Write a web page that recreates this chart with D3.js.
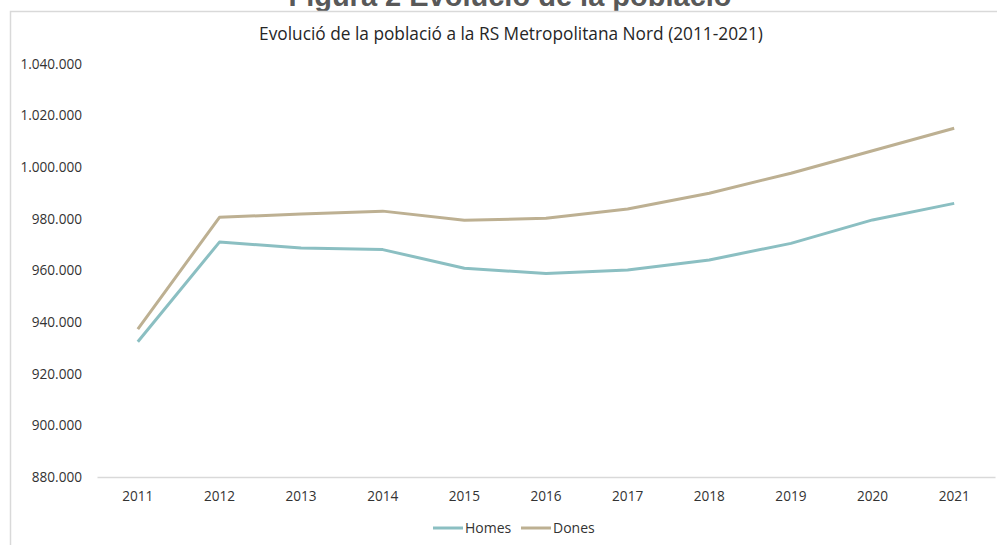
<!DOCTYPE html>
<html>
<head>
<meta charset="utf-8">
<script src="https://cdn.jsdelivr.net/npm/d3@7"></script>
<style>
  body { margin: 0; background: #fff; }
  svg { display: block; font-family: "Open Sans", "Noto Sans", sans-serif; }
</style>
</head>
<body>
<div id="chart"></div>
<script>
const years = ["2011","2012","2013","2014","2015","2016","2017","2018","2019","2020","2021"]
const homes = [932400, 971000, 968700, 968100, 960900, 958800, 960200, 964100, 970500, 979600, 986000]
const dones = [937300, 980600, 981900, 983000, 979500, 980200, 983800, 989900, 997700, 1006400, 1015100]
const yTicks = [880000, 900000, 920000, 940000, 960000, 980000, 1000000, 1020000, 1040000]
const seriesNames = ["Homes", "Dones"]
const colors = ["#8bbfc2", "#bdb092"]

const width = 997
const height = 545

const svg = d3.select("#chart").append("svg")
    .attr("width", width)
    .attr("height", height)

// cut-off figure caption above the chart box
svg.append("text")
    .attr("x", 510)
    .attr("y", 6)
    .attr("text-anchor", "middle")
    .style("font-family", "'Liberation Sans', Arial, sans-serif")
    .style("font-weight", "bold")
    .style("font-size", "29px")
    .style("fill", "#595959")
    .text("Figura 2 Evolució de la població")

// chart box border
svg.append("path")
    .attr("d", `M10.5,${height} V11.5 H${width}`)
    .attr("fill", "none")
    .attr("stroke", "#d9d9d9")
    .attr("stroke-width", 1.5)

svg.append("text")
    .attr("x", 511)
    .attr("y", 40)
    .attr("text-anchor", "middle")
    .style("font-size", "17.3px")
    .style("fill", "#262626")
    .text("Evolució de la població a la RS Metropolitana Nord (2011-2021)")

const xScale = d3.scaleBand()
    .domain(years)
    .range([97, 995])

const yScale = d3.scaleLinear()
    .domain([880000, 1040000])
    .range([477, 64])

const fmt = d => d3.format(",")(d).replace(/,/g, ".")

const yAxis = d3.axisLeft(yScale)
    .tickValues(yTicks)
    .tickFormat(fmt)
    .tickSize(0)
    .tickPadding(0)

svg.append("g")
    .attr("transform", "translate(82,0)")
    .call(yAxis)
    .call(g => g.select(".domain").remove())
    .selectAll("text")
    .style("font-size", "13.6px")
    .style("fill", "#333")
    .style("font-family", "'Open Sans', sans-serif")

const xAxis = d3.axisBottom(xScale).tickSize(0).tickPadding(14)

svg.append("g")
    .attr("transform", "translate(0,477)")
    .call(xAxis)
    .call(g => g.select(".domain").attr("stroke", "#d9d9d9").attr("stroke-width", 1.5))
    .selectAll("text")
    .style("font-size", "13.6px")
    .style("fill", "#333")
    .style("font-family", "'Open Sans', sans-serif")

const line = d3.line()
    .x((d, i) => xScale(years[i]) + xScale.bandwidth() / 2)
    .y(d => yScale(d))

const series = [homes, dones]
svg.selectAll(".series")
    .data(series)
    .enter()
    .append("path")
    .attr("class", "series")
    .attr("d", d => line(d))
    .attr("fill", "none")
    .attr("stroke", (d, i) => colors[i])
    .attr("stroke-width", 3)
    .attr("stroke-linejoin", "round")

// legend
const legend = svg.append("g").attr("transform", "translate(433,528)")
const items = legend.selectAll("g")
    .data(seriesNames)
    .enter()
    .append("g")
    .attr("transform", (d, i) => `translate(${i * 88},0)`)

items.append("line")
    .attr("x1", 0)
    .attr("x2", 30)
    .attr("stroke", (d, i) => colors[i])
    .attr("stroke-width", 3)

items.append("text")
    .attr("x", 32)
    .attr("dy", "0.35em")
    .style("font-size", "14px")
    .style("fill", "#333")
    .text(d => d)
</script>
</body>
</html>
